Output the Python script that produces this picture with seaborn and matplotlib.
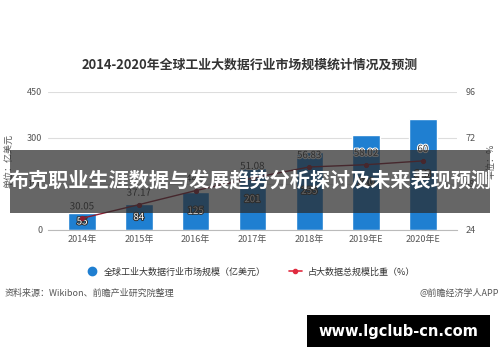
import pandas as pd
import matplotlib.pyplot as plt
import matplotlib.patheffects as pe
from matplotlib.lines import Line2D
from matplotlib.patches import Rectangle
import seaborn as sns

years = ["2014年", "2015年", "2016年", "2017年", "2018年", "2019年E", "2020年E"]
market_size = [55, 84, 125, 201, 255, 310, 363]
share_pct = [30.05, 37.17, 44.5, 51.08, 56.83, 58.02, 60]
left_ticks = [0, 150, 300, 450]
right_ticks = [24, 48, 72, 96]

BAR_BLUE = "#1f7fd1"
LINE_RED = "#8c1f33"
LEGEND_RED = "#e02b3f"
GREY = "#555555"

sns.set_style("white")
plt.rcParams["font.family"] = ["Noto Sans CJK SC", "DejaVu Sans"]

df = pd.DataFrame({"year": years, "size": market_size, "share": share_pct})

fig = plt.figure(figsize=(5, 3.62), dpi=100)
ax = fig.add_axes([0.096, 0.365, 0.818, 0.381])

sns.barplot(data=df, x="year", y="size", color=BAR_BLUE, width=0.48,
            saturation=1, ax=ax)
ax.set_ylim(0, 450)
ax.set_yticks(left_ticks)
ax.set_xlim(-0.6, 6.6)
ax.grid(True, axis="y", color="#dddddd", linewidth=0.8)
ax.set_axisbelow(True)
for s in ["top", "right", "left"]:
    ax.spines[s].set_visible(False)
ax.spines["bottom"].set_color("#bbbbbb")
ax.tick_params(axis="both", length=0, labelsize=6.5, labelcolor=GREY, pad=4)
ax.set_xlabel("")
ax.set_ylabel("单位：亿美元", fontsize=6.5, color=GREY, labelpad=10)
ax.bar_label(ax.containers[0], label_type="center", fontsize=7, color="white",
             path_effects=[pe.withStroke(linewidth=1.5, foreground="#333333")])

ax2 = ax.twinx()
sns.pointplot(data=df, x="year", y="share", color=LINE_RED, markers="o",
              markersize=3, linewidth=1, ax=ax2)
ax2.set_ylim(24, 96)
ax2.set_yticks(right_ticks)
ax2.set_xlim(-0.6, 6.6)
for s in ["top", "right", "left", "bottom"]:
    ax2.spines[s].set_visible(False)
ax2.tick_params(axis="y", length=0, labelsize=6.5, labelcolor=GREY, pad=6)
ax2.set_xlabel("")
ax2.set_ylabel("单位：%", fontsize=6.5, color=GREY, labelpad=8)
for i, v in enumerate(share_pct):
    ax2.annotate(f"{v:g}", (i, v), xytext=(0, 5), textcoords="offset points",
                 ha="center", va="bottom", fontsize=7, color="#333333",
                 path_effects=[pe.withStroke(linewidth=1.5, foreground="white")])

fig.text(0.5, 0.82, "2014-2020年全球工业大数据行业市场规模统计情况及预测",
         ha="center", va="center", fontsize=9.3, fontweight="bold", color="#333333")

handles = [
    Line2D([], [], marker="o", linestyle="none", markersize=6, color=BAR_BLUE),
    Line2D([], [], marker="o", linestyle="-", markersize=3, color=LEGEND_RED, linewidth=1.2),
]
fig.legend(handles, ["全球工业大数据行业市场规模（亿美元）", "占大数据总规模比重（%）"],
           loc="center", bbox_to_anchor=(0.5, 0.249), ncol=2, frameon=False,
           fontsize=6.5, handlelength=1.5, columnspacing=2.5, handletextpad=0.6,
           labelcolor="#333333")

fig.text(0.01, 0.19, "资料来源：Wikibon、前瞻产业研究院整理", ha="left", va="center",
         fontsize=6.5, color=GREY)
fig.text(0.998, 0.19, "@前瞻经济学人APP", ha="right", va="center",
         fontsize=6.5, color=GREY)

# dark banner over the chart
fig.patches.append(Rectangle((0.02, 0.412), 0.96, 0.174, transform=fig.transFigure,
                             facecolor="#2b2b2b", alpha=0.72, edgecolor="none", zorder=5))
fig.text(0.5, 0.5, "布克职业生涯数据与发展趋势分析探讨及未来表现预测", ha="center", va="center",
         fontsize=14.5, fontweight="bold", color="white", zorder=6)

# url box
fig.patches.append(Rectangle((0.614, 0.041), 0.366, 0.088, transform=fig.transFigure,
                             facecolor="black", edgecolor="none", zorder=5))
fig.text(0.797, 0.085, "www.lgclub-cn.com", ha="center", va="center",
         fontsize=10.5, fontweight="bold", color="white", family="DejaVu Sans", zorder=6)

fig.savefig("out.png", dpi=100)
